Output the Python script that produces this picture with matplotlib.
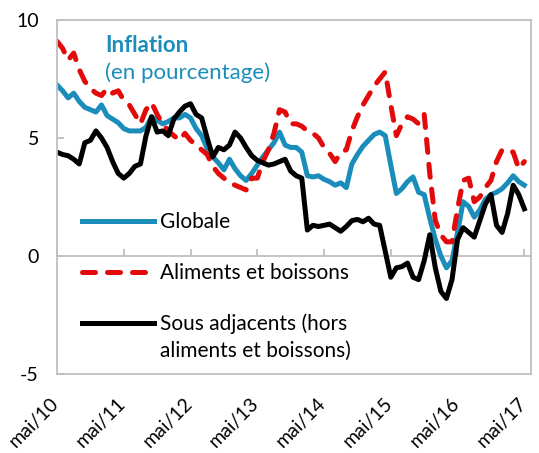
import matplotlib
matplotlib.use("Agg")
import matplotlib.pyplot as plt
import matplotlib.transforms as mtransforms
import numpy as np

# ---------------- data ----------------
tick_labels = ["mai/10", "mai/11", "mai/12", "mai/13", "mai/14", "mai/15", "mai/16", "mai/17"]

globale = [7.25, 7.0, 6.7, 6.9, 6.55, 6.3, 6.2, 6.1, 6.4, 5.95, 5.8, 5.65,
           5.4, 5.3, 5.3, 5.3, 5.45, 5.9, 5.75, 5.6, 5.7, 5.85, 5.85, 6.0,
           5.85, 5.4, 5.1, 4.55, 4.2, 3.95, 3.65, 4.1, 3.7, 3.4, 3.2, 3.5,
           3.85, 4.2, 4.5, 4.8, 5.25, 4.7, 4.6, 4.6, 4.4, 3.4, 3.35, 3.4,
           3.25, 3.15, 3.0, 3.1, 2.9, 3.9, 4.3, 4.65, 4.9, 5.15, 5.25, 5.1,
           3.85, 2.65, 2.85, 3.15, 3.35, 2.7, 2.6, 1.6, 0.7, 0.0, -0.5, -0.2,
           1.0, 2.3, 2.1, 1.65, 1.95, 2.4, 2.6, 2.7, 2.85, 3.1, 3.4, 3.15,
           3.0]

aliments = [9.1, 8.8, 8.3, 8.6, 7.9, 7.4, 7.1, 6.9, 6.8, 7.1, 6.9, 7.0,
            6.6, 6.4, 6.0, 5.6, 6.2, 6.5, 6.0, 5.6, 5.3, 5.1, 4.9, 5.2,
            4.9, 4.7, 4.5, 4.3, 3.8, 3.5, 3.3, 3.1, 3.0, 2.9, 2.8, 3.3,
            3.3, 4.0, 4.5, 5.2, 6.2, 6.1, 5.6, 5.6, 5.5, 5.3, 5.2, 5.0,
            4.6, 4.35, 4.0, 4.4, 4.5, 5.3, 5.9, 6.4, 6.8, 7.2, 7.5, 7.8,
            6.4, 5.1, 5.6, 5.9, 5.8, 5.6, 6.0, 3.5, 1.5, 0.9, 0.6, 0.6,
            2.0, 3.2, 3.3, 2.3, 2.5, 2.9, 3.2, 4.0, 4.5, 4.5, 4.4, 3.7,
            4.0]

sous_adjacents = [4.4, 4.3, 4.25, 4.1, 3.9, 4.8, 4.9, 5.3, 5.0, 4.6, 4.0, 3.5,
                  3.3, 3.5, 3.8, 3.9, 5.1, 5.9, 5.25, 5.3, 5.1, 5.8, 6.1, 6.35,
                  6.45, 6.0, 5.85, 5.0, 4.2, 4.6, 4.5, 4.7, 5.25, 5.0, 4.6, 4.25,
                  4.05, 3.95, 3.85, 3.9, 4.0, 4.1, 3.6, 3.4, 3.3, 1.1, 1.3, 1.25,
                  1.3, 1.35, 1.2, 1.05, 1.25, 1.5, 1.55, 1.45, 1.6, 1.35, 1.3, 0.2,
                  -0.9, -0.5, -0.45, -0.3, -0.9, -1.0, -0.2, 0.9, -0.5, -1.5, -1.8, -1.0,
                  0.7, 1.2, 1.0, 0.8, 1.5, 2.2, 2.6, 1.3, 1.0, 1.8, 3.0, 2.6,
                  2.0]

labels = ["Globale", "Aliments et boissons", "Sous adjacents (hors"]
label_cont = "aliments et boissons)"

# ---------------- style ----------------
plt.rcParams['font.family'] = ['Lato', 'DejaVu Sans']
BLUE = "#1A8DBA"
RED = "#E20A0A"
GRID = "#BFBFBF"
FS_TICK = 14
FS_LEG = 15
FS_TITLE = 16

fig = plt.figure(figsize=(5.39, 4.53), dpi=100)
ax = fig.add_axes([57/539, 1-374/453, 474/539, 354/453])

months = np.arange(len(globale))
lw = 3.6
ax.plot(months, globale, color=BLUE, lw=lw, solid_joinstyle='round', label=labels[0])
ax.plot(months, aliments, color=RED, lw=lw, linestyle=(0, (2.6, 2.4)),
        dash_capstyle='round', label=labels[1])
ax.plot(months, sous_adjacents, color='black', lw=lw, solid_joinstyle='round', label=labels[2])

ax.set_xlim(0, 85.2)
ax.set_ylim(-5, 10)
ax.set_yticks([-5, 0, 5, 10])
ax.set_yticklabels(["-5", "0", "5", "10"])
ax.axhline(0, color=GRID, lw=1.3, zorder=0.5)

for s in ax.spines.values():
    s.set_color(GRID)
    s.set_linewidth(1.3)

xt = np.arange(0, len(globale), 12)
ax.set_xticks(xt)
ax.set_xticklabels(tick_labels, rotation=45, ha='right', va='top', fontsize=FS_TICK)
ax.tick_params(axis='x', length=0, pad=15)
offset = mtransforms.ScaledTranslation(5/100, 0, fig.dpi_scale_trans)
for lab in ax.get_xticklabels():
    lab.set_transform(lab.get_transform() + offset)

ax.tick_params(axis='y', direction='in', length=5, color=GRID, width=1.3,
               pad=13, labelsize=FS_TICK)

sec = ax.secondary_xaxis(1/3)
sec.set_xticks(xt)
sec.tick_params(axis='x', direction='in', length=5, color=GRID, width=1.3, labelbottom=False)
sec.set_xticklabels([])
sec.spines['bottom'].set_visible(False)

ax.text(0.101, 0.929, "Inflation", transform=ax.transAxes, color=BLUE,
        fontsize=FS_TITLE, fontweight='bold', va='center', ha='left')
ax.text(0.101, 0.850, "(en pourcentage)", transform=ax.transAxes, color=BLUE,
        fontsize=FS_TITLE, va='center', ha='left')

leg = ax.legend(loc='upper left', bbox_to_anchor=(0.035, 0.481), frameon=False,
                fontsize=FS_LEG, handlelength=3.45, handletextpad=0.3,
                labelspacing=1.48, borderaxespad=0)

# continuation line of the third legend label, aligned under it
fig.canvas.draw()
bb = leg.get_texts()[2].get_window_extent()
x0, y0 = ax.transAxes.inverted().transform((bb.x0, bb.y0))
ax.text(x0, y0 - 7/354, label_cont, transform=ax.transAxes, fontsize=FS_LEG,
        ha='left', va='top')

fig.savefig("out.png", dpi=100)
